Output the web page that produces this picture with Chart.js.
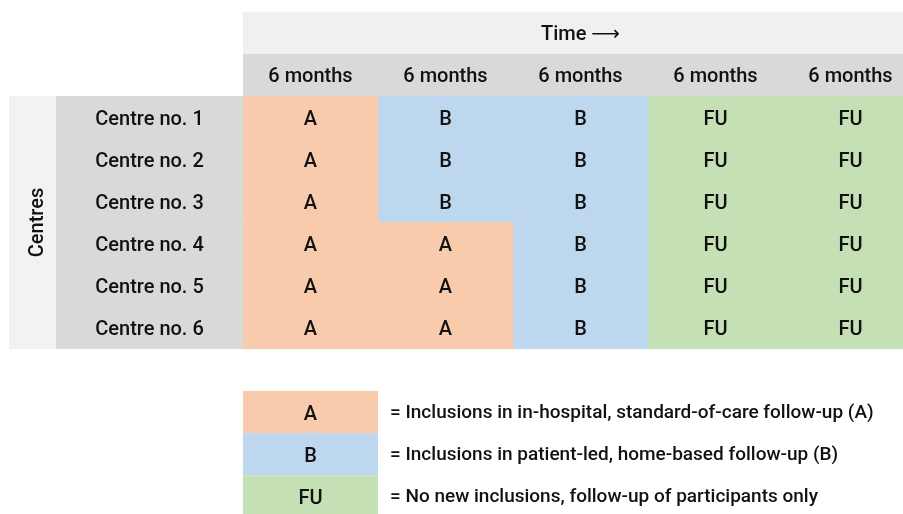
<!DOCTYPE html>
<html>
<head>
<meta charset="utf-8">
<script src="https://cdn.jsdelivr.net/npm/chart.js@4"></script>
<style>
  html, body { margin: 0; padding: 0; background: #fff; overflow: hidden; }
  #wrap { width: 903px; height: 514px; overflow: hidden; }
</style>
</head>
<body>
<div id="wrap"><canvas id="grid" width="918" height="514"></canvas></div>
<script>
// Study design grid: six centres, five 6-month periods

const centres = ['Centre no. 1', 'Centre no. 2', 'Centre no. 3', 'Centre no. 4', 'Centre no. 5', 'Centre no. 6'];
const periods = ['6 months', '6 months', '6 months', '6 months', '6 months'];
const timeLabel = 'Time \u27F6';
const axisLabel = 'Centres';

// arm per centre (rows) and period (columns)
const schedule = [
  ['A', 'B', 'B', 'FU', 'FU'],
  ['A', 'B', 'B', 'FU', 'FU'],
  ['A', 'B', 'B', 'FU', 'FU'],
  ['A', 'A', 'B', 'FU', 'FU'],
  ['A', 'A', 'B', 'FU', 'FU'],
  ['A', 'A', 'B', 'FU', 'FU']
];

const legendCodes = ['A', 'B', 'FU'];
const legendTexts = [
  '= Inclusions in in-hospital, standard-of-care follow-up (A)',
  '= Inclusions in patient-led, home-based follow-up (B)',
  '= No new inclusions, follow-up of participants only'
];

const COLORS = { A: '#f8cbad', B: '#bdd7ee', FU: '#c5e0b4' };
const FONT = 'Roboto, "DejaVu Sans", sans-serif';
const DY = 2.5; // nudge text down a bit

// one floating-bar dataset per period
const datasets = periods.map((p, j) => ({
  label: p,
  data: centres.map(() => [j, j + 1]),
  backgroundColor: schedule.map(row => COLORS[row[j]]),
  codes: schedule.map(row => row[j]),
  borderWidth: 0,
  barPercentage: 1,
  categoryPercentage: 1
}));

const gridPlugin = {
  id: 'gridDecor',
  beforeDatasetsDraw(chart) {
    const { ctx, chartArea: a } = chart;
    const rowH = (a.bottom - a.top) / centres.length;
    ctx.save();
    // time header
    ctx.fillStyle = '#f0f0f0';
    ctx.fillRect(a.left, a.top - 2 * rowH, a.right - a.left, rowH);
    ctx.fillStyle = '#d9d9d9';
    ctx.fillRect(a.left, a.top - rowH, a.right - a.left, rowH);
    // row label column + centres band
    ctx.fillRect(56, a.top, a.left - 56, a.bottom - a.top);
    ctx.fillStyle = '#f2f2f2';
    ctx.fillRect(9, a.top, 47, a.bottom - a.top);
    ctx.restore();
  },
  afterDatasetsDraw(chart) {
    const { ctx, chartArea: a, scales: { x, y } } = chart;
    const rowH = (a.bottom - a.top) / centres.length;
    ctx.save();
    ctx.fillStyle = '#111';
    ctx.font = '500 20px ' + FONT;
    ctx.textAlign = 'center';
    ctx.textBaseline = 'middle';

    // header texts
    ctx.fillText(timeLabel, (a.left + a.right) / 2, a.top - 1.5 * rowH + DY);
    periods.forEach((p, j) => ctx.fillText(p, x.getPixelForValue(j + 0.5), a.top - 0.5 * rowH + DY));

    // row labels
    centres.forEach((c, i) => ctx.fillText(c, (56 + a.left) / 2, y.getPixelForValue(i) + DY));

    // cell codes
    chart.data.datasets.forEach((ds, di) => {
      chart.getDatasetMeta(di).data.forEach((bar, i) => {
        const pt = bar.getCenterPoint();
        ctx.fillText(ds.codes[i], pt.x, pt.y + DY);
      });
    });

    // rotated axis label
    ctx.save();
    ctx.translate(35 + DY, (a.top + a.bottom) / 2);
    ctx.rotate(-Math.PI / 2);
    ctx.fillText(axisLabel, 0, 0);
    ctx.restore();

    // legend
    const lx0 = x.getPixelForValue(0), lx1 = x.getPixelForValue(1);
    const ly0 = a.bottom + 42;
    legendCodes.forEach((code, k) => {
      const top = ly0 + k * rowH;
      ctx.fillStyle = COLORS[code];
      ctx.fillRect(lx0, top, lx1 - lx0, rowH);
      ctx.fillStyle = '#111';
      ctx.font = '500 20px ' + FONT;
      ctx.textAlign = 'center';
      ctx.fillText(code, (lx0 + lx1) / 2, top + rowH / 2 + DY);
      ctx.font = '500 19px ' + FONT;
      ctx.textAlign = 'left';
      ctx.fillText(legendTexts[k], lx1 + 12, top + rowH / 2 + 1);
    });
    ctx.restore();
  }
};

new Chart(document.getElementById('grid'), {
  type: 'bar',
  data: { labels: centres, datasets },
  options: {
    indexAxis: 'y',
    responsive: false,
    animation: false,
    devicePixelRatio: 1,
    grouped: false,
    layout: { padding: { left: 243, top: 96, right: 0, bottom: 165 } },
    plugins: { legend: { display: false }, tooltip: { enabled: false } },
    scales: {
      x: { type: 'linear', min: 0, max: periods.length, display: false },
      y: { display: false }
    }
  },
  plugins: [gridPlugin]
});
</script>
</body>
</html>
